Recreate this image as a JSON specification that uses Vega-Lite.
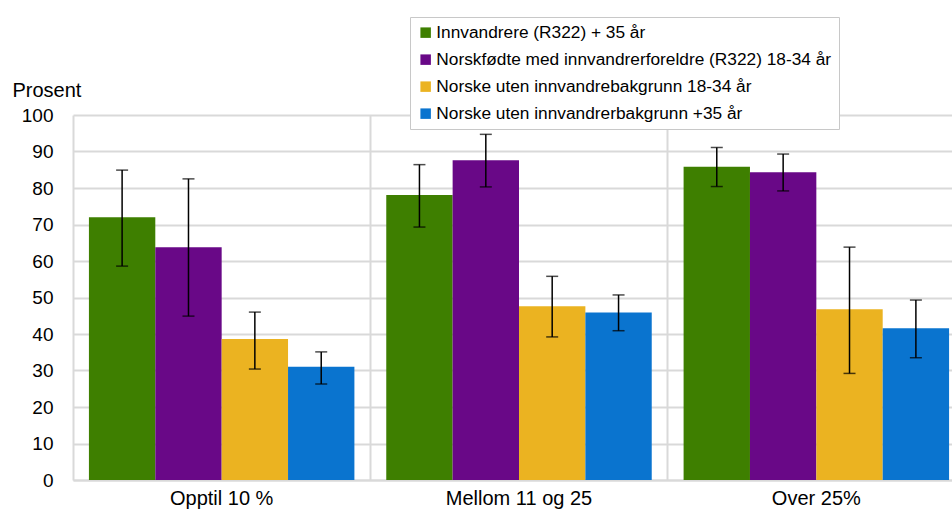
{
  "$schema": "https://vega.github.io/schema/vega-lite/v6.json",
  "width": 879,
  "height": 365,
  "autosize": {"type": "none"},
  "padding": {"left": 73, "top": 115, "right": 0, "bottom": 29},
  "background": "white",
  "config": {
    "font": "Liberation Sans",
    "view": {"stroke": null}
  },
  "data": {
    "values": [
      {"gruppe": "Opptil 10 %", "serie": "Innvandrere (R322) + 35 år", "verdi": 72.0, "lav": 58.6, "hoy": 84.9},
      {"gruppe": "Opptil 10 %", "serie": "Norskfødte med innvandrerforeldre (R322) 18-34 år", "verdi": 63.8, "lav": 44.9, "hoy": 82.5},
      {"gruppe": "Opptil 10 %", "serie": "Norske uten innvandrebakgrunn 18-34 år", "verdi": 38.6, "lav": 30.4, "hoy": 46.0},
      {"gruppe": "Opptil 10 %", "serie": "Norske uten innvandrerbakgrunn +35 år", "verdi": 31.0, "lav": 26.3, "hoy": 35.1},
      {"gruppe": "Mellom 11 og 25", "serie": "Innvandrere (R322) + 35 år", "verdi": 78.1, "lav": 69.3, "hoy": 86.4},
      {"gruppe": "Mellom 11 og 25", "serie": "Norskfødte med innvandrerforeldre (R322) 18-34 år", "verdi": 87.6, "lav": 80.3, "hoy": 94.7},
      {"gruppe": "Mellom 11 og 25", "serie": "Norske uten innvandrebakgrunn 18-34 år", "verdi": 47.6, "lav": 39.2, "hoy": 55.8},
      {"gruppe": "Mellom 11 og 25", "serie": "Norske uten innvandrerbakgrunn +35 år", "verdi": 45.9, "lav": 40.9, "hoy": 50.7},
      {"gruppe": "Over 25%", "serie": "Innvandrere (R322) + 35 år", "verdi": 85.8, "lav": 80.4, "hoy": 91.1},
      {"gruppe": "Over 25%", "serie": "Norskfødte med innvandrerforeldre (R322) 18-34 år", "verdi": 84.3, "lav": 79.2, "hoy": 89.3},
      {"gruppe": "Over 25%", "serie": "Norske uten innvandrebakgrunn 18-34 år", "verdi": 46.8, "lav": 29.2, "hoy": 63.8},
      {"gruppe": "Over 25%", "serie": "Norske uten innvandrerbakgrunn +35 år", "verdi": 41.6, "lav": 33.5, "hoy": 49.3}
    ]
  },
  "encoding": {
    "x": {
      "field": "gruppe", "type": "nominal",
      "sort": ["Opptil 10 %", "Mellom 11 og 25", "Over 25%"],
      "scale": {"range": [0, 892], "paddingInner": 0, "paddingOuter": 0},
      "axis": {"title": null, "labelAngle": 0, "labelPadding": 8, "labelFontSize": 20, "labelColor": "#000000", "labelFont": "Liberation Sans", "ticks": false, "domain": true, "domainColor": "#d9d9d9", "domainWidth": 2, "grid": true, "gridColor": "#d9d9d9", "gridWidth": 2, "bandPosition": 0}
    },
    "xOffset": {
      "field": "serie", "type": "nominal",
      "sort": ["Innvandrere (R322) + 35 år", "Norskfødte med innvandrerforeldre (R322) 18-34 år", "Norske uten innvandrebakgrunn 18-34 år", "Norske uten innvandrerbakgrunn +35 år"],
      "scale": {"paddingInner": 0, "paddingOuter": 0.24}
    }
  },
  "layer": [
    {
      "mark": {"type": "bar", "clip": true},
      "encoding": {
        "y": {
          "field": "verdi", "type": "quantitative",
          "scale": {"domain": [0, 100]},
          "axis": {"values": [0,10,20,30,40,50,60,70,80,90,100], "labelOverlap": false, "ticks": false, "domain": false, "labelPadding": 20, "labelFontSize": 19, "labelColor": "#000000", "labelFont": "Liberation Sans", "grid": true, "gridColor": "#d9d9d9", "gridWidth": 2,
                   "title": "Prosent", "titleFont": "Liberation Sans", "titleAngle": 0, "titleAlign": "left", "titleBaseline": "middle", "titleX": -61, "titleY": -25, "titleFontSize": 20, "titleFontWeight": "normal", "titleColor": "#000000"}
        },
        "color": {
          "field": "serie", "type": "nominal",
          "scale": {
            "domain": ["Innvandrere (R322) + 35 år", "Norskfødte med innvandrerforeldre (R322) 18-34 år", "Norske uten innvandrebakgrunn 18-34 år", "Norske uten innvandrerbakgrunn +35 år"],
            "range": ["#3e7f00", "#690887", "#ebb321", "#0a74cf"]
          },
          "legend": {
            "title": null, "orient": "none", "legendX": 337, "legendY": -98,
            "strokeColor": "#c8c8c8", "fillColor": "#ffffff", "padding": 7,
            "symbolType": "square", "symbolSize": 110, "symbolStrokeWidth": 0,
            "labelFont": "Liberation Sans", "labelFontSize": 17.3, "labelLimit": 0, "labelColor": "#000000", "labelOffset": 2, "rowPadding": 9
          }
        }
      }
    },
    {
      "mark": {"type": "rule", "color": "#000000", "strokeWidth": 1.5, "clip": true},
      "encoding": {
        "y": {"field": "lav", "type": "quantitative",
          "axis": {"values": [0,10,20,30,40,50,60,70,80,90,100], "labelOverlap": false, "ticks": false, "domain": false, "labelPadding": 20, "labelFontSize": 19, "labelColor": "#000000", "labelFont": "Liberation Sans", "grid": true, "gridColor": "#d9d9d9", "gridWidth": 2,
                   "title": "Prosent", "titleFont": "Liberation Sans", "titleAngle": 0, "titleAlign": "left", "titleBaseline": "middle", "titleX": -61, "titleY": -25, "titleFontSize": 20, "titleFontWeight": "normal", "titleColor": "#000000"}},
        "y2": {"field": "hoy"}
      }
    },
    {
      "mark": {"type": "tick", "color": "#000000", "thickness": 1.5, "size": 12, "orient": "horizontal", "clip": true},
      "encoding": {"y": {"field": "lav", "type": "quantitative",
          "axis": {"values": [0,10,20,30,40,50,60,70,80,90,100], "labelOverlap": false, "ticks": false, "domain": false, "labelPadding": 20, "labelFontSize": 19, "labelColor": "#000000", "labelFont": "Liberation Sans", "grid": true, "gridColor": "#d9d9d9", "gridWidth": 2,
                   "title": "Prosent", "titleFont": "Liberation Sans", "titleAngle": 0, "titleAlign": "left", "titleBaseline": "middle", "titleX": -61, "titleY": -25, "titleFontSize": 20, "titleFontWeight": "normal", "titleColor": "#000000"}}}
    },
    {
      "mark": {"type": "tick", "color": "#000000", "thickness": 1.5, "size": 12, "orient": "horizontal", "clip": true},
      "encoding": {"y": {"field": "hoy", "type": "quantitative",
          "axis": {"values": [0,10,20,30,40,50,60,70,80,90,100], "labelOverlap": false, "ticks": false, "domain": false, "labelPadding": 20, "labelFontSize": 19, "labelColor": "#000000", "labelFont": "Liberation Sans", "grid": true, "gridColor": "#d9d9d9", "gridWidth": 2,
                   "title": "Prosent", "titleFont": "Liberation Sans", "titleAngle": 0, "titleAlign": "left", "titleBaseline": "middle", "titleX": -61, "titleY": -25, "titleFontSize": 20, "titleFontWeight": "normal", "titleColor": "#000000"}}}
    }
  ]
}
